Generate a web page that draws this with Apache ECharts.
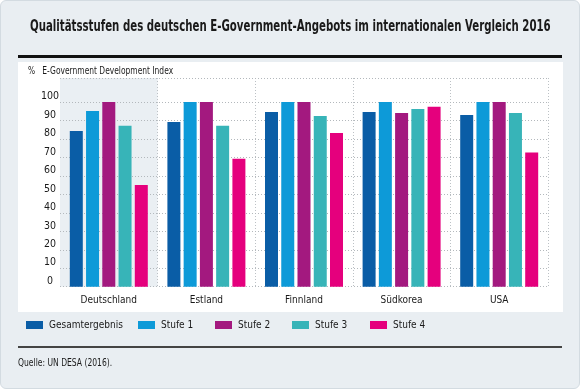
<!DOCTYPE html>
<html><head><meta charset="utf-8">
<script src="https://cdn.jsdelivr.net/npm/echarts@6/dist/echarts.min.js"></script>
<style>
html,body{margin:0;padding:0;background:#fff;}
#wrap{position:relative;width:580px;height:389px;overflow:hidden;}
#panel{position:absolute;left:0;top:0;width:578px;height:387px;background:#e9eef2;border:1px solid #d3dbe1;border-radius:6px;}
#white{position:absolute;left:18px;top:62px;width:545px;height:250px;background:#fff;}
#topline{position:absolute;left:18px;top:55px;width:544px;height:2.5px;background:#111;}
#botline{position:absolute;left:18px;top:346px;width:544px;height:1.5px;background:#444;}
#chart{position:absolute;left:0;top:0;width:580px;height:389px;}
</style></head>
<body>
<div id="wrap">
<div id="panel"></div><div id="white"></div><div id="topline"></div><div id="botline"></div>
<div id="chart"></div>
</div>
<script>
const categories = ['Deutschland', 'Estland', 'Finnland', 'Südkorea', 'USA'];
const seriesNames = ['Gesamtergebnis', 'Stufe 1', 'Stufe 2', 'Stufe 3', 'Stufe 4'];
const gesamt = [84.3, 89.2, 94.6, 94.6, 93.0];
const stufe1 = [95.1, 100, 100, 100, 100];
const stufe2 = [100, 100, 100, 94.0, 100];
const stufe3 = [87.2, 87.2, 92.4, 96.2, 94.0];
const stufe4 = [55.1, 69.3, 83.2, 97.5, 72.6];
const gridValues = [0, 10, 20, 30, 40, 50, 60, 70, 80, 90, 100, 113];
const titleText = 'Qualitätsstufen des deutschen E-Government-Angebots im internationalen Vergleich 2016';
const yNameText = '%   E-Government Development Index';
const sourceText = 'Quelle: UN DESA (2016).';

const FONT = "'DejaVu Sans Condensed','Liberation Sans Narrow',sans-serif";
const colors = ['#0a5da6', '#0d9ad8', '#a3197f', '#37b4b8', '#e5007d'];
const values = [gesamt, stufe1, stufe2, stufe3, stufe4];
const legendLeft = [26, 138, 215, 292, 370];

const chart = echarts.init(document.getElementById('chart'), null, {renderer: 'canvas'});
const series = seriesNames.map((n, i) => {
  const s = {
    name: n, type: 'bar', data: values[i], barWidth: 13, barGap: '25%',
    itemStyle: {color: colors[i]}, silent: true
  };
  if (i === 0) {
    s.markLine = {
      silent: true, symbol: 'none', label: {show: false},
      lineStyle: {color: '#b3b8bc', type: [1, 2], width: 1},
      data: gridValues.map(v => ({yAxis: v})),
      z: 1
    };
  }
  return s;
});

function gtext(text, x, y, font, sx) {
  return {
    type: 'text', x: x, y: y, scaleX: sx, scaleY: 1, silent: true,
    style: {text: text, font: font, fill: '#1a1a1a',
            textAlign: 'left', textVerticalAlign: 'middle', align: 'left', verticalAlign: 'middle'}
  };
}

chart.setOption({
  backgroundColor: 'transparent',
  animation: false,
  color: colors,
  textStyle: {fontFamily: FONT},
  graphic: [
    gtext(titleText, 30, 27, "bold 15px 'DejaVu Sans Condensed', sans-serif", 0.756),
    gtext(yNameText, 28, 71, "11px 'DejaVu Sans Condensed', sans-serif", 0.76),
    gtext(sourceText, 18, 363, "11px 'DejaVu Sans Condensed', sans-serif", 0.77)
  ],
  legend: seriesNames.map((n, i) => ({
    left: legendLeft[i], top: 320, itemWidth: 17, itemHeight: 8, itemGap: 0, icon: 'rect',
    padding: 0,
    textStyle: {fontFamily: FONT, fontSize: 10, color: '#1a1a1a', padding: [0, 0, 0, 1]},
    data: [n], selectedMode: false
  })),
  grid: {left: 60, right: 32, top: 78, bottom: 102.3, containLabel: false},
  xAxis: {
    type: 'category', data: categories,
    axisLine: {show: false}, axisTick: {show: false},
    axisLabel: {fontFamily: FONT, fontSize: 10, color: '#1a1a1a', margin: 9},
    splitLine: {show: true, interval: (idx) => idx !== 0, lineStyle: {color: '#bcc1c5', type: [1, 2]}},
    splitArea: {show: true, interval: 0, areaStyle: {color: ['#eaeff3', 'rgba(0,0,0,0)', 'rgba(0,0,0,0)', 'rgba(0,0,0,0)', 'rgba(0,0,0,0)']}}
  },
  yAxis: {
    type: 'value', min: 0, max: 113, interval: 10,
    axisLine: {show: false}, axisTick: {show: false},
    splitLine: {show: false},
    axisLabel: {
      fontFamily: FONT, fontSize: 10.5, color: '#1a1a1a', align: 'center', margin: 10,
      verticalAlign: 'bottom',
      formatter: v => (v <= 100 && v % 10 === 0) ? String(v) : ''
    }
  },
  series: series
});
</script>
</body></html>
